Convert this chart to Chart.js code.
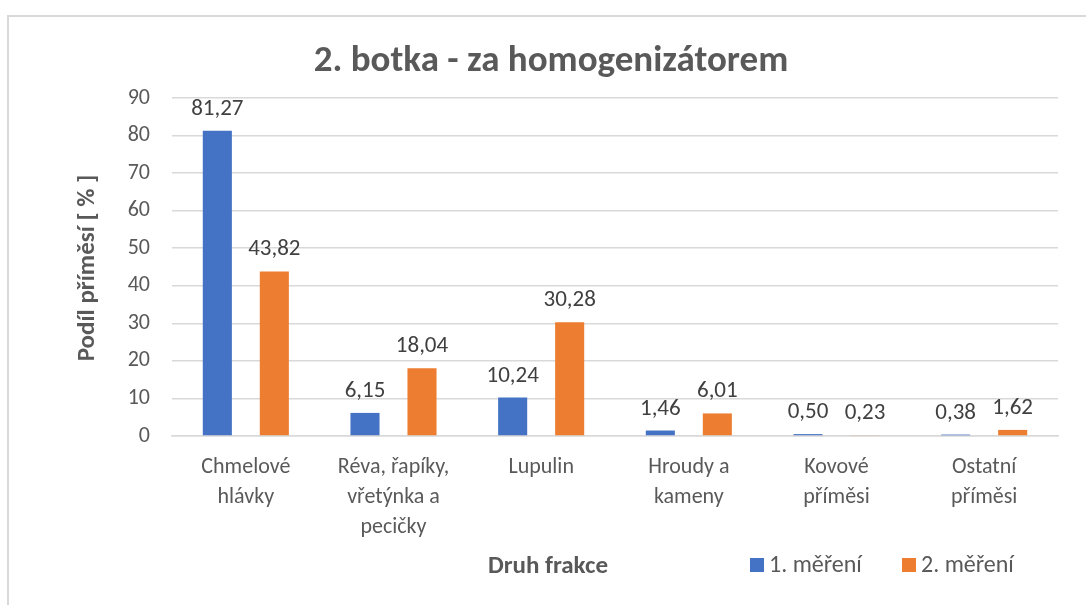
<!DOCTYPE html>
<html>
<head>
<meta charset="utf-8">
<script src="https://cdn.jsdelivr.net/npm/chart.js@4/dist/chart.umd.min.js"></script>
<style>
html,body{margin:0;padding:0;background:#fff;}
#wrap{position:relative;width:1086px;height:605px;}
</style>
</head>
<body>
<div id="wrap"><canvas id="c" width="1086" height="605"></canvas></div>
<script>
const chartTitle = "2. botka - za homogenizátorem";
const yAxisTitle = "Podíl příměsí [ % ]";
const xAxisTitle = "Druh frakce";
const categories = [["Chmelové","hlávky"],["Réva, řapíky,","vřetýnka a","pecičky"],["Lupulin"],["Hroudy a","kameny"],["Kovové","příměsi"],["Ostatní","příměsi"]];
const seriesNames = ["1. měření","2. měření"];
const seriesColors = ["#4472C4","#ED7D31"];
const series1 = [81.27, 6.15, 10.24, 1.46, 0.50, 0.38];
const series2 = [43.82, 18.04, 30.28, 6.01, 0.23, 1.62];
const yMin = 0, yMax = 90, yStep = 10;

const FONT = "Carlito, Lato, 'Liberation Sans', sans-serif";
const TXT = "#595959";

const decor = {
  id: 'decor',
  beforeDraw(chart){
    const ctx = chart.ctx;
    ctx.save();
    ctx.strokeStyle = '#d9d9d9';
    ctx.lineWidth = 2;
    ctx.strokeRect(8, 16, 1200, 800);
    ctx.restore();
  },
  afterDraw(chart){
    const ctx = chart.ctx;
    ctx.save();
    ctx.fillStyle = TXT;
    ctx.textAlign = 'center';
    ctx.textBaseline = 'middle';
    ctx.font = "bold 37px " + FONT;
    ctx.fillText(chartTitle, 551, 62);
    ctx.font = "bold 25px " + FONT;
    ctx.fillText(xAxisTitle, 548, 567);
    ctx.save();
    ctx.translate(88, 268);
    ctx.rotate(-Math.PI/2);
    ctx.fillText(yAxisTitle, 0, 0);
    ctx.restore();
    // legend
    ctx.font = "24px " + FONT;
    ctx.textAlign = 'left';
    const boxX = [750, 902];
    chart.data.datasets.forEach((ds, di) => {
      ctx.fillStyle = seriesColors[di];
      ctx.fillRect(boxX[di], 558, 14, 14);
      ctx.fillStyle = TXT;
      ctx.fillText(ds.label, boxX[di] + 19, 566);
    });
    ctx.restore();
    // data labels
    ctx.save();
    ctx.fillStyle = '#404040';
    ctx.font = "23px " + FONT;
    ctx.textAlign = 'center';
    ctx.textBaseline = 'alphabetic';
    chart.data.datasets.forEach((ds, di) => {
      const meta = chart.getDatasetMeta(di);
      meta.data.forEach((bar, i) => {
        const v = ds.data[i];
        ctx.fillText(v.toFixed(2).replace('.', ','), bar.x, bar.y - 16);
      });
    });
    ctx.restore();
  }
};

new Chart(document.getElementById('c'), {
  type: 'bar',
  data: {
    labels: categories,
    datasets: [
      {label: seriesNames[0], data: series1, backgroundColor: seriesColors[0], categoryPercentage: 0.772, barPercentage: 0.51},
      {label: seriesNames[1], data: series2, backgroundColor: seriesColors[1], categoryPercentage: 0.772, barPercentage: 0.51}
    ]
  },
  options: {
    responsive: false,
    animation: false,
    events: [],
    layout: {padding: {left: 8, right: 28, top: 98, bottom: 59}},
    plugins: {
      title: {display: false},
      tooltip: {enabled: false},
      legend: {display: false}
    },
    scales: {
      x: {
        grid: {display: false, drawTicks: false},
        border: {display: true, color: '#d9d9d9', width: 1.5},
        ticks: {color: TXT, font: {family: FONT, size: 22, lineHeight: 1.38}, padding: 16, maxRotation: 0, autoSkip: false},
        afterFit(scale){ scale.height = 110; }
      },
      y: {
        min: yMin, max: yMax,
        ticks: {stepSize: yStep, color: TXT, font: {family: FONT, size: 22}, padding: 22},
        grid: {color: '#d9d9d9', lineWidth: 1.5, drawTicks: false},
        border: {display: false},
        afterFit(scale){ scale.width = 164; }
      }
    }
  },
  plugins: [decor]
});
</script>
</body>
</html>
